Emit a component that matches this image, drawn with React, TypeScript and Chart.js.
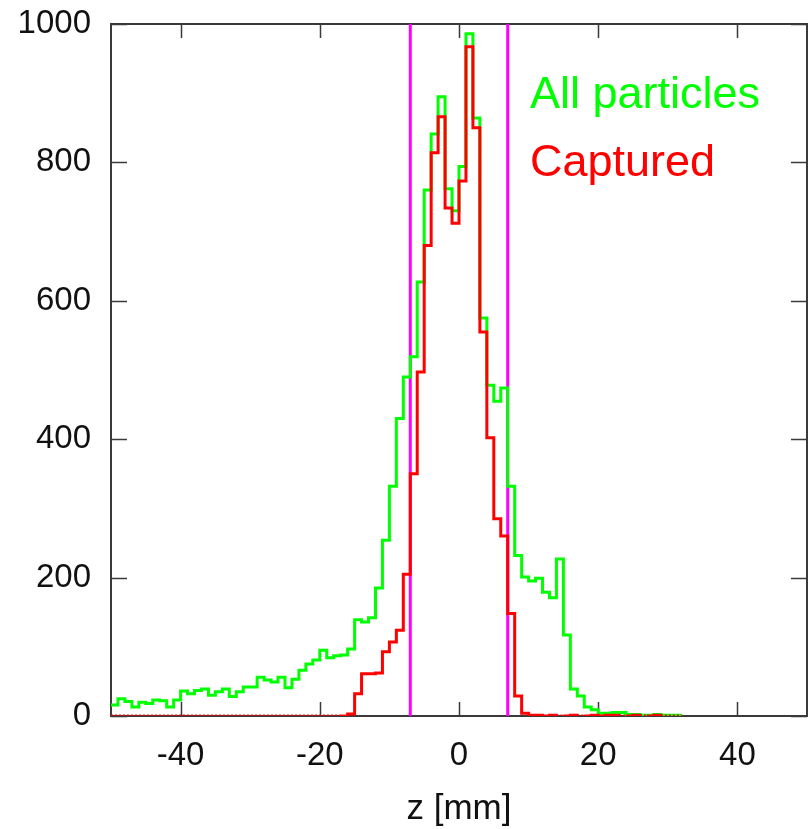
import React, { useEffect, useRef } from 'react';
import { Chart, registerables } from 'chart.js';

Chart.register(...registerables);

// ---- data ----
const binStart = -50; // mm, left edge of first bin
const binWidth = 1; // mm

const allParticles = [
  16, 25, 21, 13, 20, 18, 23, 22, 13, 23,
  36, 32, 37, 39, 30, 35, 39, 28, 35, 42,
  42, 56, 52, 49, 56, 41, 53, 66, 75, 81,
  95, 84, 87, 88, 97, 139, 136, 142, 185, 254,
  332, 430, 490, 519, 627, 760, 841, 895, 762, 730,
  794, 986, 864, 575, 478, 455, 474, 332, 232, 201,
  195, 199, 179, 171, 227, 117, 39, 29, 13, 9,
  4, 4, 5, 5, 2, 2, 1, 1, 2, 1,
  1, 1,
];

const captured = [
  0, 0, 0, 0, 0, 0, 0, 0, 0, 0,
  0, 0, 0, 0, 0, 0, 0, 0, 0, 0,
  0, 0, 0, 0, 0, 0, 0, 0, 0, 0,
  0, 0, 0, 0, 3, 32, 61, 61, 62, 93,
  107, 124, 205, 350, 497, 680, 814, 866, 734, 712,
  773, 967, 850, 555, 402, 285, 260, 148, 29, 4,
  1, 1, 0, 1, 0, 0, 1, 0, 0, 1,
  0, 1, 1, 0, 0, 1, 0, 0, 1, 0,
  0, 0,
];

const cutLines = [-7, 7]; // mm, magenta markers
const seriesLabels = ['All particles', 'Captured'];
const xAxisTitle = 'z [mm]';
const xRange = [-50, 50];
const yRange = [0, 1000];
const xTickValues = [-40, -20, 0, 20, 40];
const yTickValues = [0, 200, 400, 600, 800, 1000];

// ---- styles ----
const FONT = '"Liberation Sans", Arial, Helvetica, sans-serif';
const GREEN = '#00ff00';
const RED = '#ff0000';
const MAGENTA = '#ff00ff';
const FRAME = '#3a3a3a';
const TEXT = '#111111';

function toSteps(values: number[]) {
  const pts = values.map((v, i) => ({ x: binStart + i * binWidth, y: v }));
  pts.push({ x: binStart + values.length * binWidth, y: values[values.length - 1] });
  return pts;
}

const framePlugin = {
  id: 'frame',
  beforeDatasetsDraw(chart: any) {
    const { ctx, chartArea } = chart;
    const { left, right, top, bottom } = chartArea;
    const xs = chart.scales.x;
    const ys = chart.scales.y;
    ctx.save();
    ctx.strokeStyle = FRAME;
    ctx.lineWidth = 2;
    ctx.strokeRect(left, top, right - left, bottom - top);
    ctx.lineWidth = 1.5;
    ctx.beginPath();
    for (const t of xs.ticks) {
      const px = Math.round(xs.getPixelForValue(t.value)) + 0.5;
      ctx.moveTo(px, bottom);
      ctx.lineTo(px, bottom - 14);
      ctx.moveTo(px, top);
      ctx.lineTo(px, top + 14);
    }
    for (const t of ys.ticks) {
      const py = Math.round(ys.getPixelForValue(t.value)) + 0.5;
      ctx.moveTo(left, py);
      ctx.lineTo(left + 16, py);
      ctx.moveTo(right, py);
      ctx.lineTo(right - 16, py);
    }
    ctx.stroke();
    ctx.restore();
  },
};

const legendPlugin = {
  id: 'inlineLegend',
  afterDatasetsDraw(chart: any) {
    const { ctx, chartArea } = chart;
    ctx.save();
    ctx.font = `45px ${FONT}`;
    ctx.textAlign = 'left';
    ctx.textBaseline = 'alphabetic';
    const items = chart.data.datasets.filter((d: any) => d.inLegend);
    items.forEach((d: any, i: number) => {
      ctx.fillStyle = d.borderColor;
      ctx.fillText(d.label, chartArea.left + 419, chartArea.top + 84 + i * 68);
    });
    ctx.restore();
  },
};

export default function App() {
  const canvasRef = useRef<HTMLCanvasElement | null>(null);

  useEffect(() => {
    if (!canvasRef.current) return;
    const zeroDash = (c: any) =>
      c.p0.parsed.y === 0 && c.p1.parsed.y === 0 ? [2, 2] : undefined;

    const chart = new Chart(canvasRef.current, {
      type: 'line',
      data: {
        datasets: [
          {
            label: seriesLabels[0],
            data: toSteps(allParticles),
            borderColor: GREEN,
            borderWidth: 3,
            stepped: 'before',
            pointRadius: 0,
            fill: false,
            order: 2,
            inLegend: true,
          } as any,
          {
            label: seriesLabels[1],
            data: toSteps(captured),
            borderColor: RED,
            borderWidth: 3,
            stepped: 'before',
            pointRadius: 0,
            fill: false,
            order: 1,
            inLegend: true,
            segment: { borderDash: zeroDash },
          } as any,
          ...cutLines.map((c) => ({
            label: 'cut ' + c,
            data: [
              { x: c, y: yRange[0] },
              { x: c, y: yRange[1] },
            ],
            borderColor: MAGENTA,
            borderWidth: 3,
            pointRadius: 0,
            fill: false,
            order: 3,
          })),
        ],
      },
      options: {
        responsive: false,
        animation: false,
        devicePixelRatio: 1,
        layout: { padding: { top: 24, right: 2, left: 0, bottom: 0 } },
        plugins: {
          legend: { display: false },
          tooltip: { enabled: false },
        },
        scales: {
          x: {
            type: 'linear',
            min: xRange[0],
            max: xRange[1],
            grid: { display: false, drawTicks: false },
            border: { display: false },
            ticks: {
              autoSkip: false,
              maxRotation: 0,
              padding: 20,
              color: TEXT,
              font: { family: FONT, size: 33 },
              callback: (v: any) => String(v),
            },
            title: {
              display: true,
              text: xAxisTitle,
              color: TEXT,
              font: { family: FONT, size: 35, lineHeight: 1 },
              padding: { top: 0, bottom: 2 },
            },
            afterBuildTicks: (s: any) => {
              s.ticks = xTickValues.map((v) => ({ value: v }));
            },
            afterFit: (s: any) => {
              s.height = 113;
              s.paddingLeft = 0;
              s.paddingRight = 0;
            },
          },
          y: {
            type: 'linear',
            min: yRange[0],
            max: yRange[1],
            grid: { display: false, drawTicks: false },
            border: { display: false },
            ticks: {
              padding: 20,
              color: TEXT,
              font: { family: FONT, size: 33 },
              callback: (v: any) => String(v),
            },
            afterBuildTicks: (s: any) => {
              s.ticks = yTickValues.map((v) => ({ value: v }));
            },
            afterFit: (s: any) => {
              s.width = 111;
              s.paddingTop = 0;
              s.paddingBottom = 0;
            },
          },
        },
      } as any,
      plugins: [framePlugin, legendPlugin],
    });
    return () => chart.destroy();
  }, []);

  return (
    <div style={{ position: 'absolute', left: 0, top: 0, width: 809, height: 829, background: '#fff' }}>
      <canvas ref={canvasRef} width={809} height={829} style={{ display: 'block' }} />
    </div>
  );
}
